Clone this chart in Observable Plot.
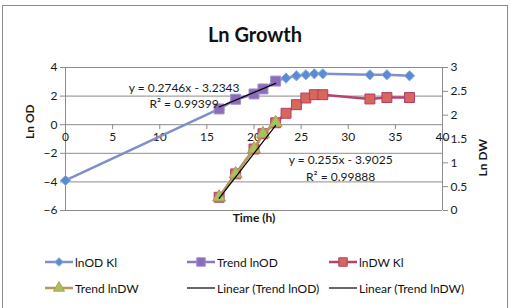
<!DOCTYPE html>
<html><head><meta charset="utf-8">
<script src="https://cdn.jsdelivr.net/npm/d3@7"></script>
<script src="https://cdn.jsdelivr.net/npm/@observablehq/plot@0.6"></script>
<style>
html,body{margin:0;padding:0;background:#fff;overflow:hidden;}
#wrap{position:relative;width:510px;height:308px;font-family:Lato,"Open Sans",sans-serif;color:#111;}
#frame{position:absolute;left:2px;top:5px;width:506px;height:320px;border:1px solid #8c8c8c;box-sizing:border-box;}
#title{position:absolute;left:0;width:510px;top:22px;line-height:24px;text-align:center;font-weight:bold;font-size:20px;}
#chart{position:absolute;left:0;top:0;}
.leg{position:absolute;display:flex;align-items:center;font-size:12px;white-space:nowrap;height:16px;}
.leg svg{display:block;}
</style></head>
<body><div id="wrap"><div id="frame"></div><div id="chart"></div><div id="title">Ln Growth</div><div id="legend"></div></div>
<script>
// ---- data ----
const timesOD = [0, 16.3, 18.05, 20, 20.95, 22.3, 23.4, 24.5, 25.5, 26.4, 27.3, 32.3, 34.1, 36.5];
const lnOD    = [-3.9, 1.10, 1.78, 2.15, 2.50, 3.05, 3.26, 3.42, 3.49, 3.56, 3.56, 3.49, 3.49, 3.42];
const timesDW = [16.3, 18.05, 20, 20.95, 22.3, 23.4, 24.5, 25.5, 26.4, 27.3, 32.3, 34.1, 36.5];
const lnDW    = [0.278, 0.768, 1.29, 1.61, 1.84, 2.04, 2.22, 2.36, 2.43, 2.43, 2.34, 2.37, 2.37];
const trendTimes = [16.3, 18.05, 20, 20.95, 22.3];
const trendLnOD  = [1.10, 1.78, 2.15, 2.50, 3.05];
const trendLnDW  = [0.278, 0.768, 1.29, 1.61, 1.84];
const odFit = [0.2746, -3.2343], odR2 = "0.99399";
const dwFit = [0.255, -3.9025], dwR2 = "0.99888";
const xTicks = [0, 5, 10, 15, 20, 25, 30, 35, 40];
const odTicks = [-6, -4, -2, 0, 2, 4];
const dwTicks = [0, 0.5, 1, 1.5, 2, 2.5, 3];
const legendNames = ["lnOD Kl", "Trend lnOD", "lnDW Kl", "Trend lnDW", "Linear (Trend lnOD)", "Linear (Trend lnDW)"];

// ---- helpers: secondary axis (DW 0..3) mapped onto primary (OD -6..4) ----
const toOD = d => -6 + d * 10 / 3;
const fromOD = v => (v + 6) * 0.3;

const odData = timesOD.map((t, i) => ({t, v: lnOD[i]}));
const dwData = timesDW.map((t, i) => ({t, v: toOD(lnDW[i])}));
const trOD = trendTimes.map((t, i) => ({t, v: trendLnOD[i]}));
const trDW = trendTimes.map((t, i) => ({t, v: toOD(trendLnDW[i])}));
const ext = d3.extent(trendTimes);
const fitODLine = ext.map(t => ({t, v: odFit[0] * t + odFit[1]}));
const fitDWLine = ext.map(t => ({t, v: toOD(dwFit[0] * t + dwFit[1])}));
const eq = (f, r2) => `y = ${f[0]}x - ${Math.abs(f[1])}\nR² = ${r2}`;

const S = {
  od:      {line: "#7f8fc9", symbol: "diamond2", fill: "#5b8bd2", stroke: "#8ea9dc", r: 4.6, w: 2.5},
  odTrend: {line: "#8a78c2", symbol: "square",   fill: "#8c6cb8", stroke: "#a08bcd", r: 5.6, w: 2.5},
  dw:      {line: "#b8416e", symbol: "square",   fill: "#d7675a", stroke: "#b23c6c", r: 5.6, w: 2.5},
  dwTrend: {line: "#b59a58", symbol: "triangle", fill: "#a6c25c", stroke: "#b59a58", r: 4.8, w: 2.5},
  fitOD:   {line: "#000", w: 1.2},
  fitDW:   {line: "#000", w: 1.2}
};
const series = (data, s) => [
  Plot.line(data, {x: "t", y: "v", stroke: s.line, strokeWidth: s.w}),
  Plot.dot(data, {x: "t", y: "v", symbol: s.symbol, r: s.r, fill: s.fill, stroke: s.stroke, strokeWidth: 1})
];

const chart = Plot.plot({
  width: 510, height: 308,
  marginLeft: 65, marginRight: 68, marginTop: 67, marginBottom: 98,
  style: {fontFamily: "Lato, 'Open Sans', sans-serif", fontSize: "12px", color: "#1a1a1a", background: "transparent"},
  x: {domain: [0, 40]},
  y: {domain: [-6, 4]},
  marks: [
    Plot.ruleY(odTicks, {stroke: "#8c8c8c"}),
    Plot.ruleX([0, 40], {stroke: "#8c8c8c"}),
    Plot.axisY({anchor: "left", ticks: odTicks, tickSize: 5, tickPadding: 3, label: null, stroke: "#8c8c8c"}),
    Plot.axisY({anchor: "right", ticks: dwTicks.map(toOD), tickFormat: v => String(Math.round(fromOD(v) * 100) / 100), tickSize: 5, tickPadding: 3, label: null, stroke: "#8c8c8c"}),
    Plot.axisX({y: 0, anchor: "bottom", ticks: xTicks, tickSize: 5, tickPadding: 3, label: null, stroke: "#8c8c8c"}),
    Plot.text(["Ln OD"], {text: d => d, frameAnchor: "left", dx: -35, rotate: -90, fontWeight: "bold", fontSize: 12}),
    Plot.text(["Ln DW"], {text: d => d, frameAnchor: "right", dx: 41, rotate: -90, fontWeight: "bold", fontSize: 12}),
    Plot.text(["Time (h)"], {text: d => d, frameAnchor: "bottom", dy: 11, fontWeight: "bold", fontSize: 12}),
    ...series(odData, S.od),
    ...series(trOD, S.odTrend),
    ...series(dwData, S.dw),
    ...series(trDW, S.dwTrend),
    Plot.line(fitODLine, {x: "t", y: "v", stroke: S.fitOD.line, strokeWidth: S.fitOD.w}),
    Plot.line(fitDWLine, {x: "t", y: "v", stroke: S.fitDW.line, strokeWidth: S.fitDW.w}),
    Plot.text(fitODLine.slice(0, 1), {x: "t", y: "v", text: () => eq(odFit, odR2), dx: -35, dy: -12.5, lineHeight: 1.33, fontSize: 12}),
    Plot.text(fitDWLine.slice(1), {x: "t", y: "v", text: () => eq(dwFit, dwR2), dx: 65, dy: 42, lineHeight: 1.4, fontSize: 12})
  ]
});
document.getElementById("chart").appendChild(chart);

// ---- legend ----
const legendKeys = ["od", "odTrend", "dw", "dwTrend", "fitOD", "fitDW"];
const colX = [45, 187, 329], rowY = [262, 288];
const symMap = {diamond2: d3.symbolDiamond2, square: d3.symbolSquare, triangle: d3.symbolTriangle};
const leg = d3.select("#legend");
legendNames.forEach((name, i) => {
  const s = S[legendKeys[i]];
  const div = leg.append("div").attr("class", "leg")
    .style("left", colX[i % 3] + "px").style("top", (rowY[Math.floor(i / 3)] - 8) + "px");
  const svg = div.append("svg").attr("width", 28).attr("height", 16);
  svg.append("line").attr("x1", 0).attr("x2", 28).attr("y1", 8).attr("y2", 8)
    .attr("stroke", s.line).attr("stroke-width", s.symbol ? 2.5 : 1.2);
  if (s.symbol) {
    const rr = s.r * 0.85;
    svg.append("path").attr("transform", "translate(14,8)")
      .attr("d", d3.symbol(symMap[s.symbol], Math.PI * rr * rr)())
      .attr("fill", s.fill).attr("stroke", s.stroke);
  }
  div.append("span").style("margin-left", "2px").text(name);
});
</script>
</body></html>
